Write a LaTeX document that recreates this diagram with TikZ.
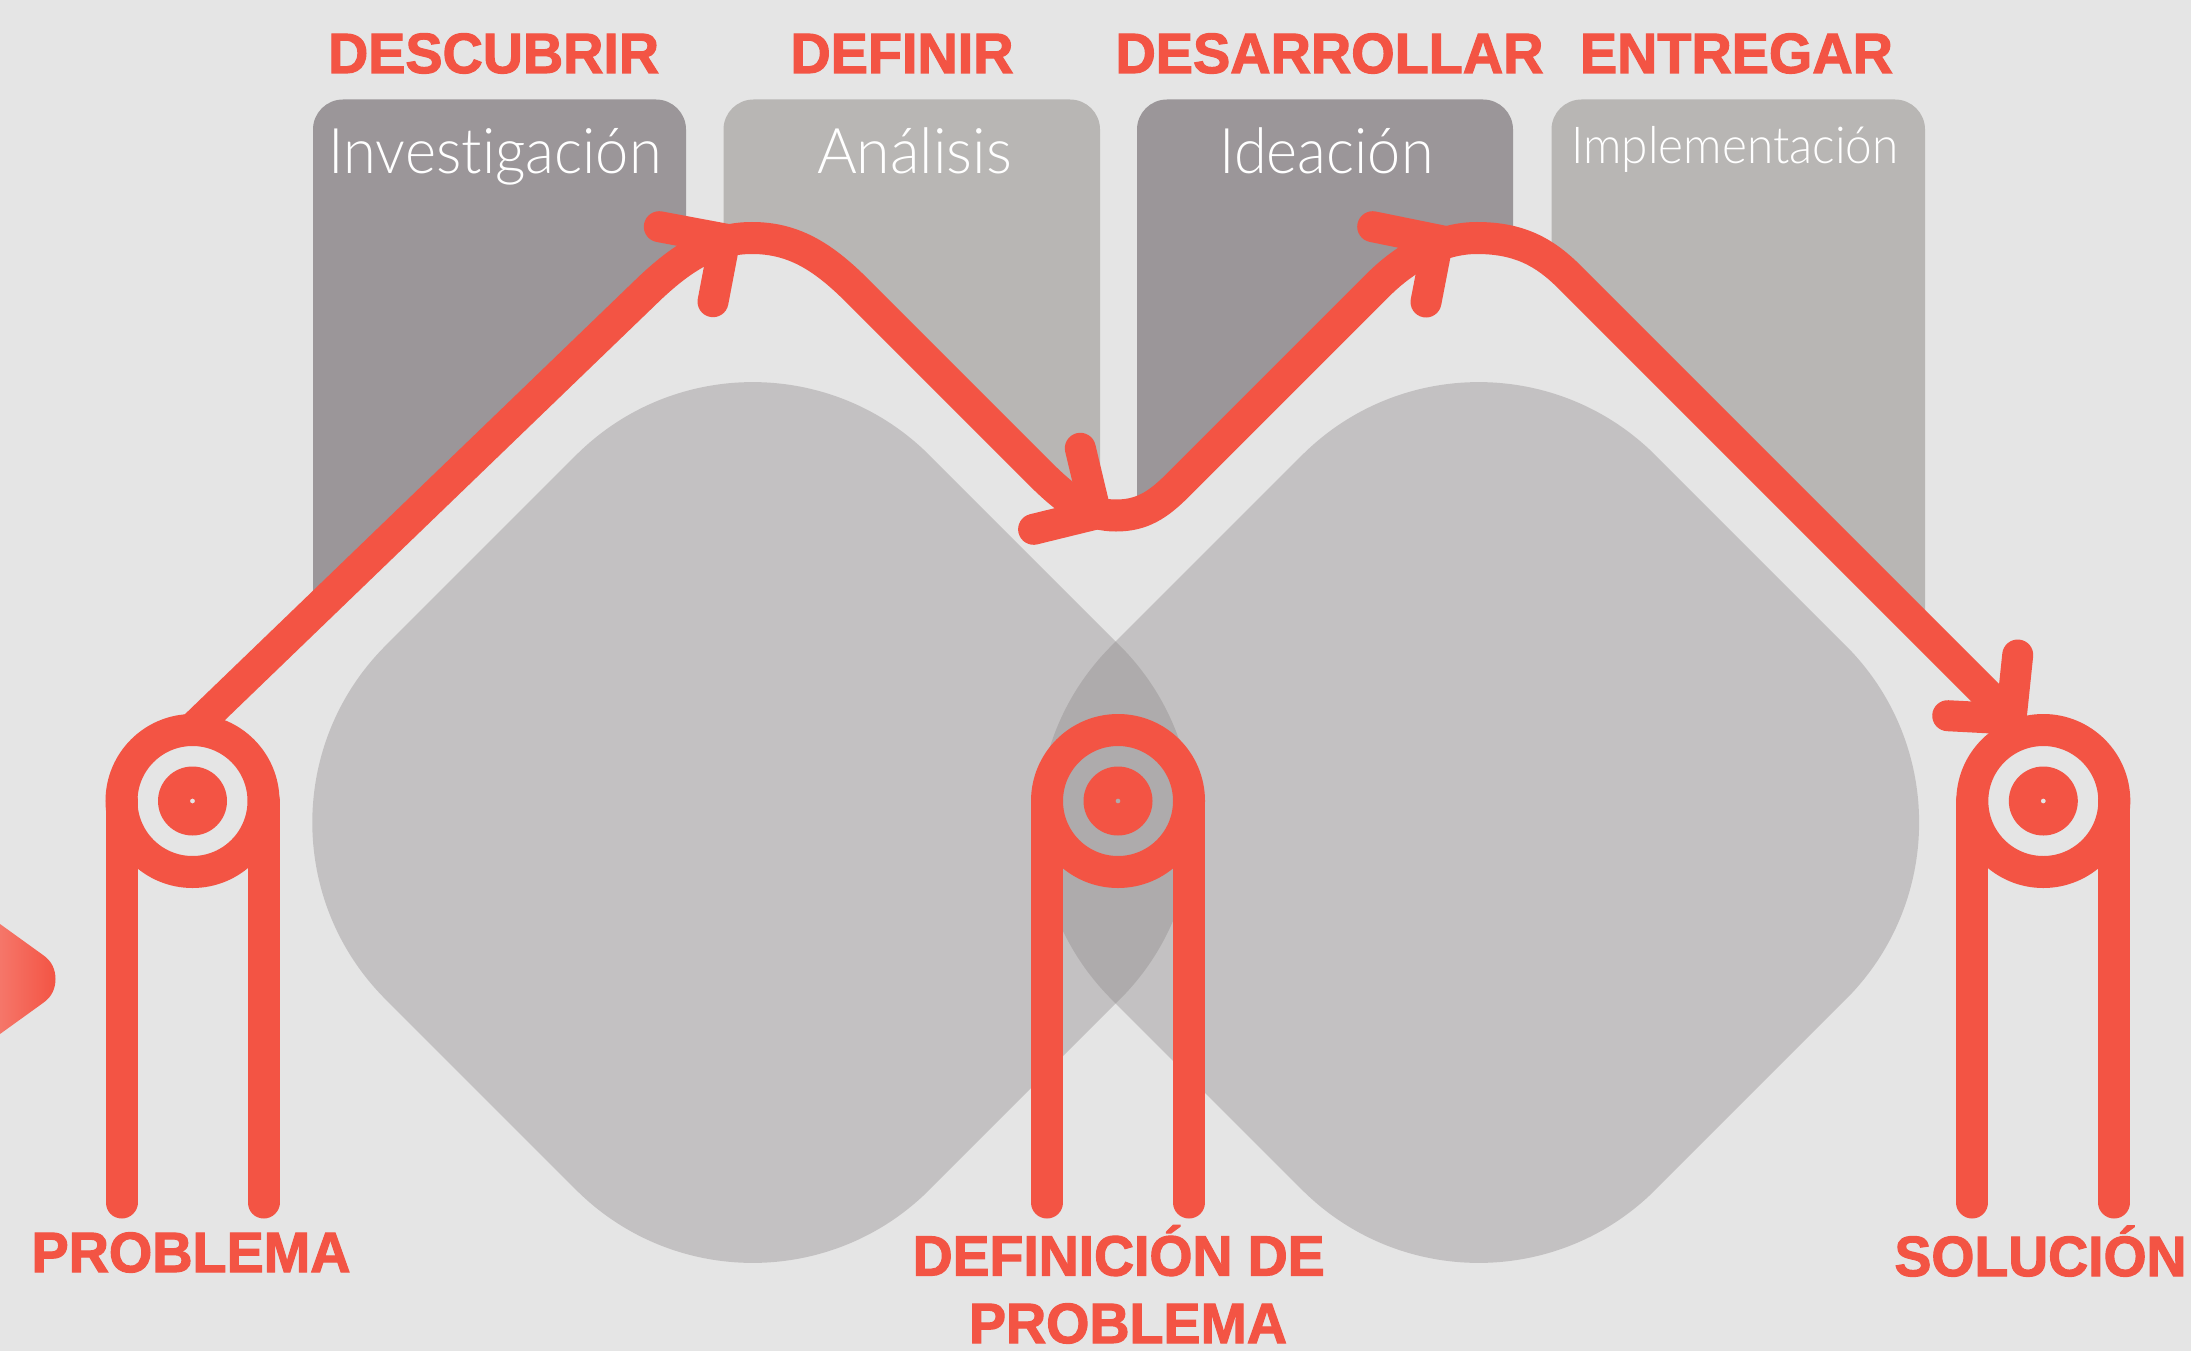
\documentclass[tikz,border=0pt]{standalone}
\usepackage{graphicx}
\usepackage{fontspec}
\setmainfont{Liberation Sans}[BoldFeatures={FakeBold=2}]
\newfontfamily\lightf{Lato Light}[Ligatures=NoCommon]
\definecolor{bgc}{HTML}{E5E5E5}
\definecolor{redc}{HTML}{F35444}
\definecolor{boxd}{HTML}{9B9699}
\definecolor{boxl}{HTML}{B8B6B4}
\definecolor{diac}{HTML}{8C8889}
\newcommand{\fitw}[2]{\resizebox{#1pt}{\height}{#2}}
\newcommand{\mainpath}{(192,729.6) -- (650,288)
  .. controls (685,255) and (715,238) .. (752,238)
  .. controls (795,238) and (825,258) .. (860,293.5)
  -- (1040,473.5)
  .. controls (1070,503.5) and (1090,515.5) .. (1116,515.5)
  .. controls (1142,515.5) and (1158,505) .. (1178,485)
  -- (1378,285)
  .. controls (1405,258) and (1440,238) .. (1477,238)
  .. controls (1520,238) and (1545,253) .. (1568,275.5)
  -- (2011,718.5)}
\newcommand{\diashape}[1]{(#1-176.8,455.3)
  .. controls (#1-79.2,357.7) and (#1+79.2,357.7) .. (#1+176.8,455.3)
  -- (#1+367.2,645.7)
  .. controls (#1+464.8,743.3) and (#1+464.8,901.7) .. (#1+367.2,999.3)
  -- (#1+176.8,1189.7)
  .. controls (#1+79.2,1287.3) and (#1-79.2,1287.3) .. (#1-176.8,1189.7)
  -- (#1-367.2,999.3)
  .. controls (#1-464.8,901.7) and (#1-464.8,743.3) .. (#1-367.2,645.7)
  -- cycle}
\tikzset{
  head/.style={font=\fontsize{56.8}{60}\selectfont\bfseries,text=redc,inner sep=0pt,anchor=base},
  sub/.style={font=\fontsize{63}{66}\selectfont\lightf,text=white,inner sep=0pt,anchor=base},
  subsmall/.style={font=\fontsize{51}{54}\selectfont\lightf,text=white,inner sep=0pt,anchor=base},
  flow/.style={draw=redc,line width=32pt},
  barb/.style={draw=redc,line width=31pt,line cap=round},
  leg/.style={draw=redc,line width=32pt,line cap=round},
  dia/.style={fill=diac,fill opacity=0.38},
}
\begin{document}
\begin{tikzpicture}[x=1pt,y=-1pt]
\useasboundingbox (0,0) rectangle (2191,1351);
\fill[bgc] (0,0) rectangle (2191,1351);

% column boxes, cut off along the flow line
\begin{scope}
  \clip \mainpath -- (2191,718.5) -- (2191,0) -- (0,0) -- (0,729.6) -- cycle;
  \fill[boxd,rounded corners=30pt] (313,99.5) rectangle (686,820);
  \fill[boxl,rounded corners=30pt] (723.5,99.5) rectangle (1100,820);
  \fill[boxd,rounded corners=30pt] (1137,99.5) rectangle (1513,820);
  \fill[boxl,rounded corners=30pt] (1551.5,99.5) rectangle (1925,820);
\end{scope}

% diamonds
\fill[dia] \diashape{752.7};
\fill[dia] \diashape{1478.7};

% left tab
\path[left color=redc!80!white,right color=redc] (0,924) -- (43,955)
  .. controls (52,961) and (55.5,970) .. (55.5,979)
  .. controls (55.5,988) and (52,997) .. (43,1003) -- (0,1034) -- cycle;

% flow line and arrowheads
\draw[flow] \mainpath;
\coordinate (tipA) at (725,239);
\coordinate (tipB) at (1096,514);
\coordinate (tipC) at (1438,240);
\coordinate (tipD) at (2011,719);
\coordinate (a1) at (659.3,226.7); \coordinate (a2) at (713,301.7);
\coordinate (b1) at (1080.3,448.3); \coordinate (b2) at (1033.6,529.3);
\coordinate (c1) at (1372.7,226.7); \coordinate (c2) at (1426,302);
\coordinate (d1) at (2017.7,655); \coordinate (d2) at (1947.7,715.7);
\draw[barb] (a1) -- (tipA) -- (a2);
\draw[barb] (b1) -- (tipB) -- (b2);
\draw[barb] (c1) -- (tipC) -- (c2);
\draw[barb] (d1) -- (tipD) -- (d2);

% stations
\foreach \n/\cx in {p/192.5,q/1118,r/2043.3}{
  \coordinate (\n) at (\cx,801);
  \coordinate (\n L) at (\cx-71,801);
  \coordinate (\n R) at (\cx+71,801);
  \coordinate (\n LB) at (\cx-71,1202.5);
  \coordinate (\n RB) at (\cx+71,1202.5);
  \draw[redc,line width=32pt] (\n) circle[radius=71];
  \fill[redc,even odd rule] (\n) circle[radius=34.5] (\n) circle[radius=2.5];
  \draw[leg] (\n L) -- (\n LB);
  \draw[leg] (\n R) -- (\n RB);
}

% headings
\node[head] (hA) at (493.6,73) {\fitw{331}{DESCUBRIR}};
\node[head] (hB) at (902,73) {\fitw{223}{DEFINIR}};
\node[head] (hC) at (1329.5,73) {\fitw{428}{DESARROLLAR}};
\node[head] (hD) at (1736.4,73) {\fitw{313}{ENTREGAR}};

\node[sub] (sA) at (495.2,173.3) {\fitw{333}{Investigación}};
\node[sub] (sB) at (914.5,173.3) {\fitw{195}{Análisis}};
\node[sub] (sC) at (1326.5,173.3) {\fitw{214}{Ideación}};
\node[subsmall] (sD) at (1734.9,163.3) {\fitw{327}{Implementación}};

\node[head] (lA) at (191,1272) {\fitw{319}{PROBLEMA}};
\node[head] (lB) at (1118.7,1275.5) {\fitw{412}{DEFINICIÓN DE}};
\node[head] (lC) at (1128,1343) {\fitw{318}{PROBLEMA}};
\node[head] (lD) at (2040.5,1276) {\fitw{292}{SOLUCIÓN}};
\end{tikzpicture}
\end{document}
